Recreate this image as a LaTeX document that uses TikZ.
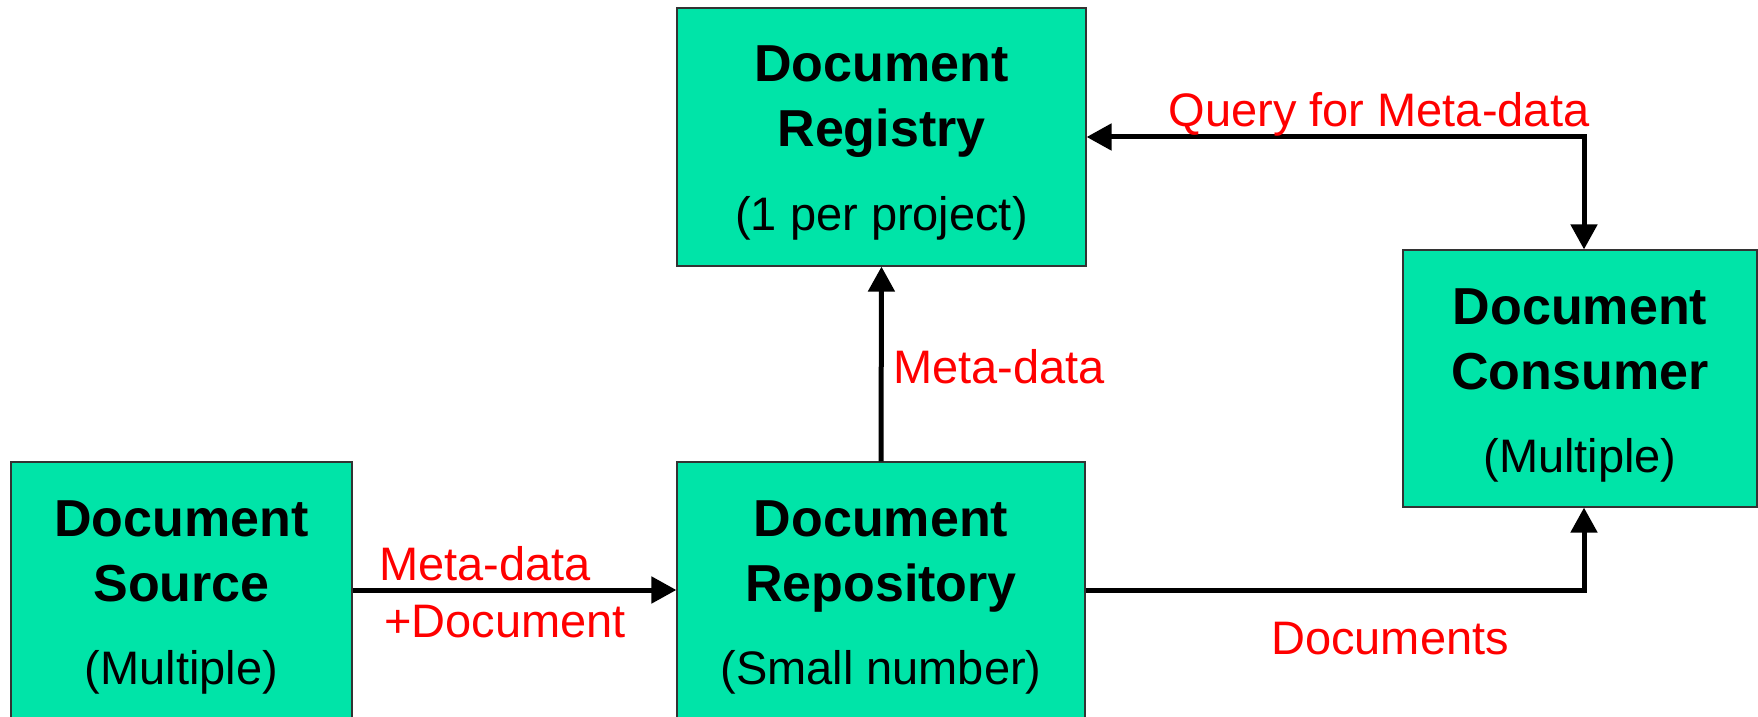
\documentclass[tikz,border=0pt]{standalone}
\usepackage{fontspec}
\setmainfont{Liberation Sans}
\usetikzlibrary{arrows.meta,calc}
\definecolor{boxfill}{RGB}{0,228,168}
\definecolor{lblred}{RGB}{255,0,0}
\begin{document}
\begin{tikzpicture}[x=0.5pt,y=-0.5pt,
  box/.style={draw=black!80,line width=0.6pt,fill=boxfill,inner sep=0pt,rectangle},
  title/.style={font=\fontsize{26pt}{30pt}\selectfont\bfseries,anchor=base,inner sep=0pt},
  sub/.style={font=\fontsize{23.5pt}{28pt}\selectfont,anchor=base,inner sep=0pt},
  lbl/.style={font=\fontsize{23.5pt}{28pt}\selectfont,text=lblred,anchor=base,inner sep=0pt},
  arr/.style={line width=2.5pt,-{Triangle[length=12.5pt,width=13pt]}},
  darr/.style={line width=2.5pt,{Triangle[length=12.5pt,width=13pt]}-{Triangle[length=12.5pt,width=13pt]}},
  line join=miter]
\useasboundingbox (0,0) rectangle (1758,717);
\fill[white] (0,0) rectangle (1758,717);
% boxes
\node[box,minimum width=170.5pt,minimum height=128pt] (src) at (181.5,590) {};
\node[box,minimum width=204pt,minimum height=128pt] (rep) at (881,590) {};
\node[box,minimum width=204.5pt,minimum height=129pt] (reg) at (881.5,137) {};
\node[box,minimum width=177pt,minimum height=128.5pt] (con) at (1580,378.5) {};
% box texts
\node[title] (src1) at (181.5,536) {Document};
\node[title] (src2) at (181.5,601) {Source};
\node[sub]   (src3) at (181.5,684) {(Multiple)};
\node[title] (rep1) at (881,536) {Document};
\node[title] (rep2) at (881,601) {Repository};
\node[sub]   (rep3) at (881,684) {(Small number)};
\node[title] (reg1) at (881.5,82) {Document};
\node[title] (reg2) at (881.5,147) {Registry};
\node[sub]   (reg3) at (881.5,230) {(1 per project)};
\node[title] (con1) at (1580,324) {Document};
\node[title] (con2) at (1580,389) {Consumer};
\node[sub]   (con3) at (1580,472) {(Multiple)};
% connectors
\draw[arr] (src.east) -- (rep.west);
\draw[arr] (rep.north) -- (reg.south);
\draw[darr] (reg.east) -| ($(con.north)+(4,0)$);
\draw[arr] (rep.east) -| ($(con.south)+(4,0)$);
% labels
\node[lbl] (lq) at (1379,127) {Query for Meta-data};
\node[lbl] (lm) at (999,383) {Meta-data};
\node[lbl] (ls1) at (485,580) {Meta-data};
\node[lbl] (ls2) at (505,637) {+Document};
\node[lbl] (ld) at (1390,654) {Documents};
\end{tikzpicture}
\end{document}
